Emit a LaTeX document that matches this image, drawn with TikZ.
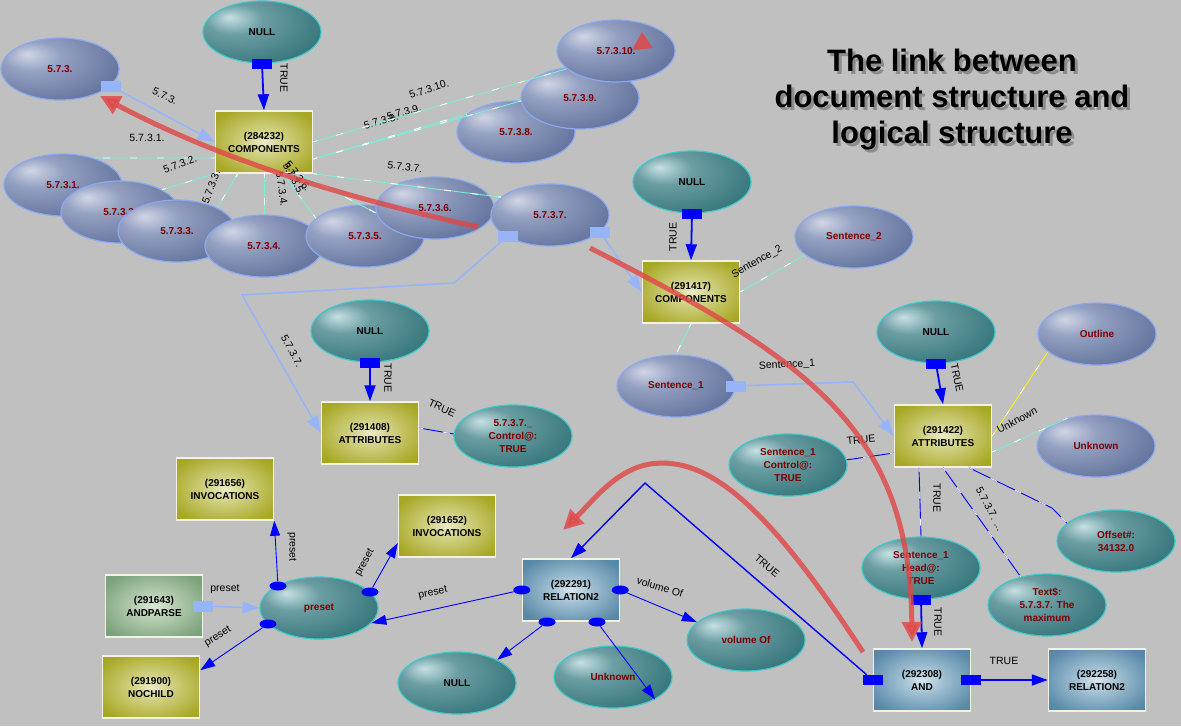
\documentclass[tikz,border=0pt]{standalone}
\usepackage{fontspec}
\setmainfont{Liberation Sans}
\usetikzlibrary{shapes.geometric,arrows.meta}
\definecolor{bggray}{RGB}{192,192,192}
\definecolor{docline}{RGB}{140,168,240}
\definecolor{logline}{RGB}{64,200,200}
\definecolor{darkred}{RGB}{128,0,0}
\definecolor{portblue}{RGB}{152,180,248}
\definecolor{cyanline}{RGB}{120,240,215}
\definecolor{annred}{RGB}{225,70,70}
\definecolor{boxrim}{RGB}{242,242,228}
\pgfdeclareradialshading{docshade}{\pgfpoint{-14bp}{12bp}}{rgb(0bp)=(0.82,0.84,0.90); rgb(12bp)=(0.58,0.63,0.76); rgb(34bp)=(0.40,0.46,0.62); rgb(75bp)=(0.33,0.39,0.55)}
\pgfdeclareradialshading{logshade}{\pgfpoint{-14bp}{12bp}}{rgb(0bp)=(0.78,0.88,0.89); rgb(12bp)=(0.42,0.62,0.64); rgb(34bp)=(0.22,0.47,0.49); rgb(75bp)=(0.15,0.39,0.41)}
\pgfdeclareradialshading{oliveshade}{\pgfpoint{0bp}{0bp}}{rgb(0bp)=(0.92,0.92,0.78); rgb(10bp)=(0.82,0.82,0.52); rgb(30bp)=(0.66,0.66,0.15); rgb(50bp)=(0.62,0.62,0.08)}
\pgfdeclareradialshading{greenshade}{\pgfpoint{0bp}{0bp}}{rgb(0bp)=(0.86,0.91,0.84); rgb(10bp)=(0.72,0.81,0.70); rgb(30bp)=(0.49,0.64,0.49); rgb(50bp)=(0.44,0.60,0.44)}
\pgfdeclareradialshading{blueshade}{\pgfpoint{0bp}{0bp}}{rgb(0bp)=(0.85,0.90,0.93); rgb(10bp)=(0.64,0.76,0.83); rgb(30bp)=(0.35,0.54,0.66); rgb(50bp)=(0.30,0.48,0.61)}
\begin{document}
\begin{tikzpicture}[x=1pt, y=-1pt,
  docell/.style={ellipse, draw=docline, line width=1.2pt, shading=docshade, shade, minimum width=118pt, minimum height=62pt, inner sep=0pt, text=darkred, font=\fontsize{10}{13}\selectfont\bfseries, align=center},
  logell/.style={docell, draw=logline, shading=logshade, text=black},
  logredell/.style={logell, text=darkred},
  olivebox/.style={rectangle, draw=boxrim, line width=1.5pt, shading=oliveshade, shade, minimum width=97pt, minimum height=62pt, inner sep=0pt, font=\fontsize{10}{13}\selectfont\bfseries, align=center},
  greenbox/.style={olivebox, shading=greenshade},
  bluebox/.style={olivebox, shading=blueshade},
  bport/.style={rectangle, fill=blue, minimum width=20pt, minimum height=10pt, inner sep=0pt},
  lport/.style={rectangle, fill=portblue, minimum width=20pt, minimum height=11pt, inner sep=0pt},
  dport/.style={ellipse, fill=blue, minimum width=17pt, minimum height=9pt, inner sep=0pt},
  elab/.style={font=\fontsize{10.5}{12}\selectfont, inner sep=0pt, text=black},
  ttl/.style={font=\fontsize{31}{36}\selectfont\bfseries, align=center},
  tarr/.style={draw=blue, line width=1.8pt, -{Triangle[width=11pt,length=16pt]}},
  larr/.style={draw=portblue, line width=1.6pt, -{Triangle[width=12pt,length=17pt]}},
  parr/.style={draw=blue, line width=.9pt, -{Triangle[width=10pt,length=15pt]}},
  cline/.style={draw=cyanline, line width=.9pt, postaction={draw=white, dash pattern=on 7pt off 20pt, dash phase=3pt}},
  bline/.style={draw=blue, line width=.9pt, postaction={draw=white, dash pattern=on 7pt off 20pt, dash phase=3pt}},
  yline/.style={draw=yellow, line width=.9pt, postaction={draw=white, dash pattern=on 7pt off 20pt, dash phase=3pt}},
  redarr/.style={draw=annred, line width=5pt, opacity=.8, -{Triangle[width=19pt,length=20pt]}}]
  \useasboundingbox (0,0) rectangle (1181,726);
  \fill[bggray] (0,0) rectangle (1181,726);

  \node[ttl, text=black!45] (ttlshadow) at (955,103) {The link between\\document structure and\\logical structure};
  \node[ttl] (title) at (952,100) {The link between\\document structure and\\logical structure};

  \node[docell] (s573) at (60,69) {5.7.3.};
  \node[docell] (s5731) at (63,185) {5.7.3.1.};
  \node[docell] (s5732) at (120,212) {5.7.3.2.};
  \node[docell] (s5733) at (177,231) {5.7.3.3.};
  \node[docell] (s5734) at (264,246) {5.7.3.4.};
  \node[docell] (s5735) at (365,236) {5.7.3.5.};
  \node[docell] (s5736) at (435,208) {5.7.3.6.};
  \node[docell] (s5737) at (550,215) {5.7.3.7.};
  \node[docell] (s5738) at (516,132) {5.7.3.8.};
  \node[docell] (s5739) at (580,98) {5.7.3.9.};
  \node[docell] (s57310) at (616,51) {5.7.3.10.};

  \node[logell] (null1) at (262,32) {NULL};
  \node[olivebox] (comp1) at (264,142) {(284232)\\COMPONENTS};
  \node[logell] (null2) at (692,182) {NULL};
  \node[olivebox] (comp2) at (691,292) {(291417)\\COMPONENTS};
  \node[docell] (sent2) at (854,237) {Sentence\_2};
  \node[docell] (sent1) at (676,386) {Sentence\_1};
  \node[logell] (null3) at (370,331) {NULL};
  \node[olivebox] (attr1) at (370,433) {(291408)\\ATTRIBUTES};
  \node[logredell] (ctrl1) at (513,436) {5.7.3.7.\_\\Control@:\\TRUE};
  \node[logell] (null4) at (936,332) {NULL};
  \node[olivebox] (attr2) at (943,436) {(291422)\\ATTRIBUTES};
  \node[docell] (outline) at (1097,334) {Outline};
  \node[docell] (unk1) at (1096,446) {Unknown};
  \node[logredell] (ctrl2) at (788,465) {Sentence\_1\\Control@:\\TRUE};
  \node[logredell] (offs) at (1116,541) {Offset\#:\\34132.0};
  \node[logredell] (head) at (921,568) {Sentence\_1\\Head@:\\TRUE};
  \node[logredell] (textd) at (1047,605) {Text\$:\\5.7.3.7. The\\maximum};
  \node[olivebox] (inv1) at (225,489) {(291656)\\INVOCATIONS};
  \node[olivebox] (inv2) at (447,526) {(291652)\\INVOCATIONS};
  \node[greenbox] (andp) at (154,606) {(291643)\\ANDPARSE};
  \node[olivebox] (noch) at (151,687) {(291900)\\NOCHILD};
  \node[logredell] (preset) at (319,608) {preset};
  \node[bluebox] (rel1) at (571,590) {(292291)\\RELATION2};
  \node[logell] (null5) at (457,683) {NULL};
  \node[logredell] (unk2) at (613,677) {Unknown};
  \node[logredell] (volof) at (746,640) {volume Of};
  \node[bluebox] (andn) at (922,680) {(292308)\\AND};
  \node[bluebox] (rel2) at (1097,680) {(292258)\\RELATION2};

  \node[bport] (pn1) at (null1.south) {};
  \node[bport] (pn2) at (null2.south) {};
  \node[bport] (pn3) at (null3.south) {};
  \node[bport] (pn4) at (null4.south) {};
  \node[bport] (phead) at (head.south) {};
  \node[bport] (pandr) at (andn.east) {};
  \node[bport] (pandl) at (andn.west) {};
  \node[lport] (p573) at (111,86) {};
  \node[lport] (p5737a) at (508,236) {};
  \node[lport] (p5737b) at (600,232) {};
  \node[lport] (psent1) at (sent1.east) {};
  \node[lport] (pandp) at (andp.east) {};
  \node[dport] (dpr1) at (278,586) {};
  \node[dport] (dpr2) at (370,592) {};
  \node[dport] (dpr3) at (268,624) {};
  \node[dport] (drel1) at (rel1.west) {};
  \node[dport] (drel2) at (rel1.east) {};
  \node[dport] (drel3) at (547,622) {};
  \node[dport] (drel4) at (597,622) {};

  \coordinate (bend1) at (454,283);
  \coordinate (bend2) at (242,295);
  \coordinate (bend3) at (853,382);
  \coordinate (bend4) at (1052,508);
  \coordinate (bend5) at (645,483);

  \draw[cline] ([yshift=-16pt]comp1.west) -- (s5731.41) node[elab] at (147,138) {5.7.3.1.};
  \draw[cline] (comp1.south west) -- (s5732.28) node[elab, rotate=20] at (180,164) {5.7.3.2.};
  \draw[cline] ([xshift=23pt]comp1.south west) -- (s5733.30) node[elab, rotate=70] at (211,187) {5.7.3.3.};
  \draw[cline] (comp1.south) -- (s5734.north) node[elab, rotate=-82] at (282,189) {5.7.3.4.};
  \draw[cline] ([xshift=19pt]comp1.south) -- (s5735.160) node[elab, rotate=-62] at (294,179) {5.7.3.5.};
  \draw[cline] ([xshift=36pt]comp1.south) -- (s5736.185) node[elab, rotate=-52] at (298,176) {5.7.3.6.};
  \draw[cline] (comp1.south east) -- (s5737.160) node[elab, rotate=-8] at (405,167) {5.7.3.7.};
  \draw[cline] ([yshift=-17pt]comp1.east) -- (s5738.160) node[elab, rotate=16] at (381,121) {5.7.3.8.};
  \draw[cline] ([yshift=-17pt]comp1.east) -- (s5739.183) node[elab, rotate=16] at (404,112) {5.7.3.9.};
  \draw[cline] (comp1.east) -- (s57310.200) node[elab, rotate=18] at (429,89) {5.7.3.10.};
  \draw[cline] (comp2.east) -- (sent2.200) node[elab, rotate=30] at (757,262) {Sentence\_2};
  \draw[cline] (comp2.south) -- (sent1.north);
  \draw[bline] ([yshift=5pt]attr1.east) -- (ctrl1.178) node[elab, rotate=-25] at (442,408) {TRUE};
  \draw[yline] (attr2.east) -- (outline.200) node[elab, rotate=28] at (1017,420) {Unknown};
  \draw[cline] ([yshift=-16pt]attr2.east) -- (unk1.136);
  \draw[bline] ([yshift=-17pt]attr2.west) -- (ctrl2.5) node[elab, rotate=5] at (861,440) {TRUE};
  \draw[bline] ([xshift=-24pt]attr2.south) -- (head.north) node[elab, rotate=-90] at (937,498) {TRUE};
  \draw[bline] (attr2.south) -- (textd.133) node[elab, rotate=-62] at (990,509) {5.7.3.7. ...};
  \draw[bline] ([xshift=26pt]attr2.south) -- (bend4) -- (offs.160);

  \draw[tarr] (pn1) -- (comp1.north) node[elab, rotate=-90] at (284,78) {TRUE};
  \draw[tarr] (pn2) -- (comp2.north) node[elab, rotate=90] at (673,237) {TRUE};
  \draw[tarr] (pn3) -- (attr1.north) node[elab, rotate=-90] at (388,378) {TRUE};
  \draw[tarr] (pn4) -- (attr2.north) node[elab, rotate=-78] at (957,378) {TRUE};
  \draw[tarr] (phead) -- (andn.north) node[elab, rotate=-90] at (938,622) {TRUE};
  \draw[tarr] (pandr) -- (rel2.west) node[elab] at (1004,661) {TRUE};
  \draw[tarr, line width=1.4pt] (pandl) -- (bend5) -- (rel1.north) node[elab, rotate=-40] at (767,566) {TRUE};

  \draw[larr] (p573) -- (comp1.west) node[elab, rotate=-25] at (165,96) {5.7.3.};
  \draw[larr] (p5737a) -- (bend1) -- (bend2) -- (attr1.west) node[elab, rotate=-62] at (292,351) {5.7.3.7.};
  \draw[larr] (p5737b) -- (comp2.west);
  \draw[larr] (psent1) -- (bend3) -- (attr2.west) node[elab, rotate=3] at (787,365) {Sentence\_1};
  \draw[larr] (pandp) -- (preset.west) node[elab] at (225,589) {preset};

  \draw[parr] (dpr1) -- (inv1.south east) node[elab, rotate=-90] at (292,547) {preset};
  \draw[parr] (dpr2) -- ([yshift=-17pt]inv2.west) node[elab, rotate=62] at (365,563) {preset};
  \draw[parr] (dpr3) -- ([yshift=-15pt]noch.north east) node[elab, rotate=32] at (218,637) {preset};
  \draw[parr] (drel1) -- (preset.-16) node[elab, rotate=12] at (433,593) {preset};
  \draw[parr] (drel2) -- (volof.160) node[elab, rotate=-17] at (660,587) {volume Of};
  \draw[parr] (drel3) -- (null5.30);
  \draw[parr] (drel4) -- (unk2.-28);

  \coordinate (red1a) at (478,227);
  \coordinate (red1b) at (100,96);
  \coordinate (red2a) at (590,248);
  \coordinate (red2b) at (912,642);
  \coordinate (red3a) at (863,652);
  \coordinate (red3m) at (650,464);
  \coordinate (red3b) at (563,530);
  \draw[redarr] (red1a) .. controls (380,205) and (240,170) .. (red1b);
  \draw[redarr] (red2a) .. controls (810,360) and (910,430) .. (red2b);
  \draw[redarr] (red3a) .. controls (770,510) and (710,455) .. (red3m) .. controls (615,470) and (592,502) .. (red3b);
  \fill[annred, opacity=.85] (642,32) -- (632,50) -- (653,48) -- cycle;
\end{tikzpicture}
\end{document}
